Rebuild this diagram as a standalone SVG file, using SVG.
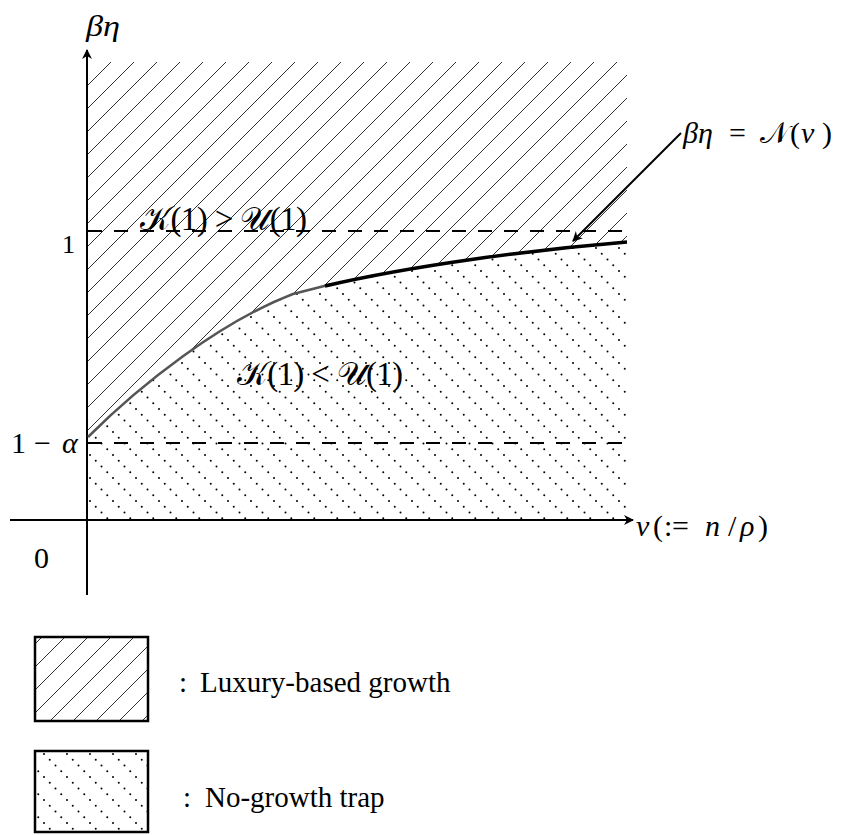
<svg xmlns="http://www.w3.org/2000/svg" width="842" height="835" viewBox="0 0 842 835">
<style>
.t{font-family:"Liberation Serif","DejaVu Serif",serif;fill:#000}
.i{font-style:italic}
.ax{stroke:#000;stroke-width:2;fill:none}
.dash{stroke:#000;stroke-width:2;stroke-dasharray:14 12;fill:none}
.box{stroke:#000;stroke-width:2.5}
</style>
<defs>
<pattern id="hatch" patternUnits="userSpaceOnUse" x="88" y="62" width="23" height="23">
<path d="M0,23 L23,0 M-2,2 L2,-2 M21,25 L25,21" stroke="#333" stroke-width="1"/>
</pattern>
<pattern id="dots" patternUnits="userSpaceOnUse" x="88" y="62" width="23" height="23">
<g fill="#000"><circle cx="2" cy="2" r="1"/><circle cx="7.75" cy="7.75" r="1"/><circle cx="13.5" cy="13.5" r="1"/><circle cx="19.25" cy="19.25" r="1"/></g>
</pattern>
<marker id="ah" viewBox="0 0 10 10" refX="9" refY="5" markerWidth="5" markerHeight="5" orient="auto" markerUnits="strokeWidth">
<path d="M0,0 L10,5 L0,10 L3,5 Z" fill="#000"/>
</marker>
</defs>
<g id="regions">
<path id="luxury-region" d="M88,62 H627 V242 C530,250 410,266 325,286 L293,294 C220,322 140,385 88,437 Z" fill="url(#hatch)"/>
<path id="trap-region" d="M88,437 C140,385 220,322 293,294 L325,286 C410,266 530,250 627,242 V520 H88 Z" fill="url(#dots)"/>
</g>
<g id="connectors">
<line class="dash" x1="88" y1="231" x2="627" y2="231"/>
<line class="dash" x1="88" y1="443" x2="627" y2="443"/>
<line class="ax" x1="87" y1="595" x2="87" y2="50" marker-end="url(#ah)"/>
<line class="ax" x1="10" y1="520" x2="633" y2="520" marker-end="url(#ah)"/>
<path d="M88,437 C140,385 220,322 293,294 L332,284" stroke="#555" stroke-width="2.5" fill="none"/>
<path d="M325,286 C410,266 530,250 627,242" stroke="#000" stroke-width="3.5" fill="none"/>
<line x1="681" y1="133" x2="573" y2="241" stroke="#000" stroke-width="2" marker-end="url(#ah)"/>
</g>
<g id="labels">
<text class="t i" x="86" y="36" font-size="30" textLength="34" lengthAdjust="spacingAndGlyphs">βη</text>
<text class="t" x="62" y="253" font-size="26">1</text>
<text class="t" y="453" font-size="30"><tspan x="11">1</tspan><tspan x="34">−</tspan><tspan x="62" class="i">α</tspan></text>
<text class="t" x="34" y="568" font-size="30">0</text>
<text class="t" y="536" font-size="30"><tspan x="636" class="i">ν</tspan><tspan x="653">(</tspan><tspan x="664">:</tspan><tspan x="672">=</tspan><tspan x="705" class="i">n</tspan><tspan x="728">/</tspan><tspan x="740" class="i">ρ</tspan><tspan x="758">)</tspan></text>
<text class="t" y="143" font-size="30"><tspan x="683" class="i">βη</tspan><tspan x="729">=</tspan><tspan x="760">𝒩</tspan><tspan x="790">(</tspan><tspan x="801" class="i">ν</tspan><tspan x="822">)</tspan></text>
<text class="t" x="140" y="230" font-size="33" textLength="167" lengthAdjust="spacing">𝒦(1) &gt; 𝒰(1)</text>
<text class="t" x="237" y="385" font-size="33" textLength="166" lengthAdjust="spacing">𝒦(1) &lt; 𝒰(1)</text>
</g>
<g id="legend-luxury">
<rect class="box" x="35" y="637" width="113" height="84" fill="url(#hatch)"/>
<text class="t" x="179" y="692" font-size="29">:</text>
<text class="t" x="200" y="692" font-size="29">Luxury-based growth</text>
</g>
<g id="legend-trap">
<rect class="box" x="35" y="751" width="113" height="81" fill="url(#dots)"/>
<text class="t" x="183" y="807" font-size="29">:</text>
<text class="t" x="205" y="807" font-size="29">No-growth trap</text>
</g>
</svg>
